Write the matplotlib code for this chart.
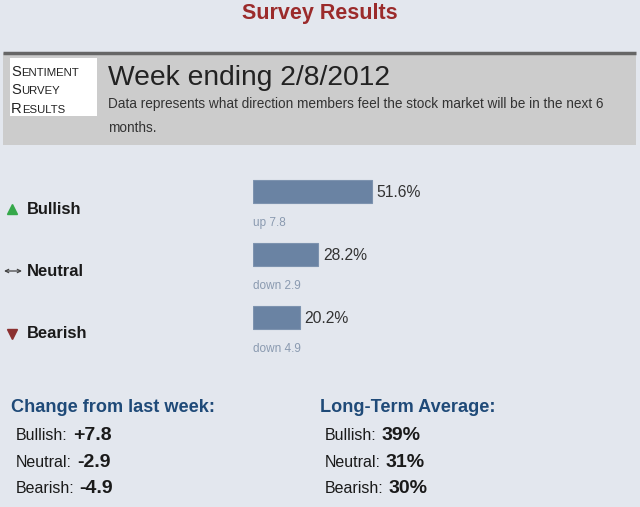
import matplotlib.pyplot as plt
from matplotlib.patches import Rectangle

plt.rcParams['font.family'] = ['Liberation Sans', 'DejaVu Sans']

# data
categories = ['Bullish', 'Neutral', 'Bearish']
values = [51.6, 28.2, 20.2]
changes = ['up 7.8', 'down 2.9', 'down 4.9']
change_vals = ['+7.8', '-2.9', '-4.9']
long_term = ['39%', '31%', '30%']
week = '2/8/2012'

bg = '#e3e7ee'
fig = plt.figure(figsize=(6.4, 5.07), dpi=100, facecolor=bg)

# full-page axes in pixel units for the page text
page = fig.add_axes([0, 0, 1, 1])
page.set_xlim(0, 640)
page.set_ylim(507, 0)
page.axis('off')

page.text(320, 13, 'Survey Results', ha='center', va='center',
          fontsize=15.5, fontweight='bold', color='#9b2b2b')

# header panel
page.add_patch(Rectangle((3, 53), 633, 92, facecolor='#cccccc', edgecolor='none'))
page.plot([3, 636], [53, 53], color='#666666', lw=2.5, solid_capstyle='butt')
page.add_patch(Rectangle((10, 58), 87, 58, facecolor='white', edgecolor='none'))

fig.canvas.draw()
renderer = fig.canvas.get_renderer()
inv = page.transData.inverted()


def x_after(t, gap=0):
    bb = t.get_window_extent(renderer)
    return inv.transform((bb.x1, bb.y0))[0] + gap


# small caps logo text
for word, y in [('Sentiment', 76), ('Survey', 94.5), ('Results', 113)]:
    t = page.text(11, y, word[0], ha='left', va='baseline', fontsize=10.6, color='#222222')
    page.text(x_after(t), y, word[1:].upper(), ha='left', va='baseline',
              fontsize=8.2, color='#222222')

page.text(108, 78, 'Week ending ' + week, ha='left', va='center',
          fontsize=20.3, color='#222222')
page.text(108, 104, 'Data represents what direction members feel the stock market will be in the next 6',
          ha='left', va='center', fontsize=9.8, color='#333333')
page.text(108, 128, 'months.', ha='left', va='center', fontsize=9.8, color='#333333')

# bar area: 0..100 % across 230.6 px starting at x=253
bx0, bw = 253 / 640, 230.6 / 640
by_top, by_bot = 160, 349
bars = fig.add_axes([bx0, 1 - by_bot / 507, bw, (by_bot - by_top) / 507])
bars.set_xlim(0, 100)
bars.set_ylim(2.5, -0.5)
bars.axis('off')
ypos = list(range(len(categories)))
bars.barh(ypos, values, height=0.365, left=0, color='#6a83a3', edgecolor='#7d93af', lw=0.8)

for i, (v, c) in enumerate(zip(values, changes)):
    bars.annotate(f'{v}%', (v, i), xytext=(3.5, -1), textcoords='offset points',
                  ha='left', va='center', fontsize=11.3, color='#333333',
                  annotation_clip=False)
    bars.annotate(c, (0, i), xytext=(0, -23), textcoords='offset points',
                  ha='left', va='center', fontsize=8.5, color='#8a9ab0',
                  annotation_clip=False)

icon_y = [209, 271, 334]
for cat, iy in zip(categories, icon_y):
    page.text(27, iy, cat, ha='left', va='center', fontsize=11.9,
              fontweight='bold', color='#1a1a1a')
page.plot([11.5], [icon_y[0]], marker='^', ms=7, color='#35a84a', mec='#35a84a')
page.plot([11.5], [icon_y[2]], marker='v', ms=7, color='#8b3030', mec='#8b3030')
page.annotate('', xy=(22, icon_y[1]), xytext=(4, icon_y[1]),
              arrowprops=dict(arrowstyle='<->', color='#444444', lw=0.9,
                              mutation_scale=6, shrinkA=0, shrinkB=0))

# bottom tables
hdr_color = '#1f4a78'
page.text(11, 407, 'Change from last week:', ha='left', va='center',
          fontsize=13.1, fontweight='bold', color=hdr_color)
page.text(320, 407, 'Long-Term Average:', ha='left', va='center',
          fontsize=13.1, fontweight='bold', color=hdr_color)

row_base = [440, 467, 493]
for cat, cv, lt, y in zip(categories, change_vals, long_term, row_base):
    for x0, val in [(16, cv), (325, lt)]:
        t = page.text(x0, y, cat + ':', ha='left', va='baseline', fontsize=11.5,
                      color='#1a1a1a')
        page.text(x_after(t, 5), y, val, ha='left', va='baseline', fontsize=14,
                  fontweight='bold', color='#1a1a1a')

fig.savefig('out.png', dpi=100, facecolor=bg)
